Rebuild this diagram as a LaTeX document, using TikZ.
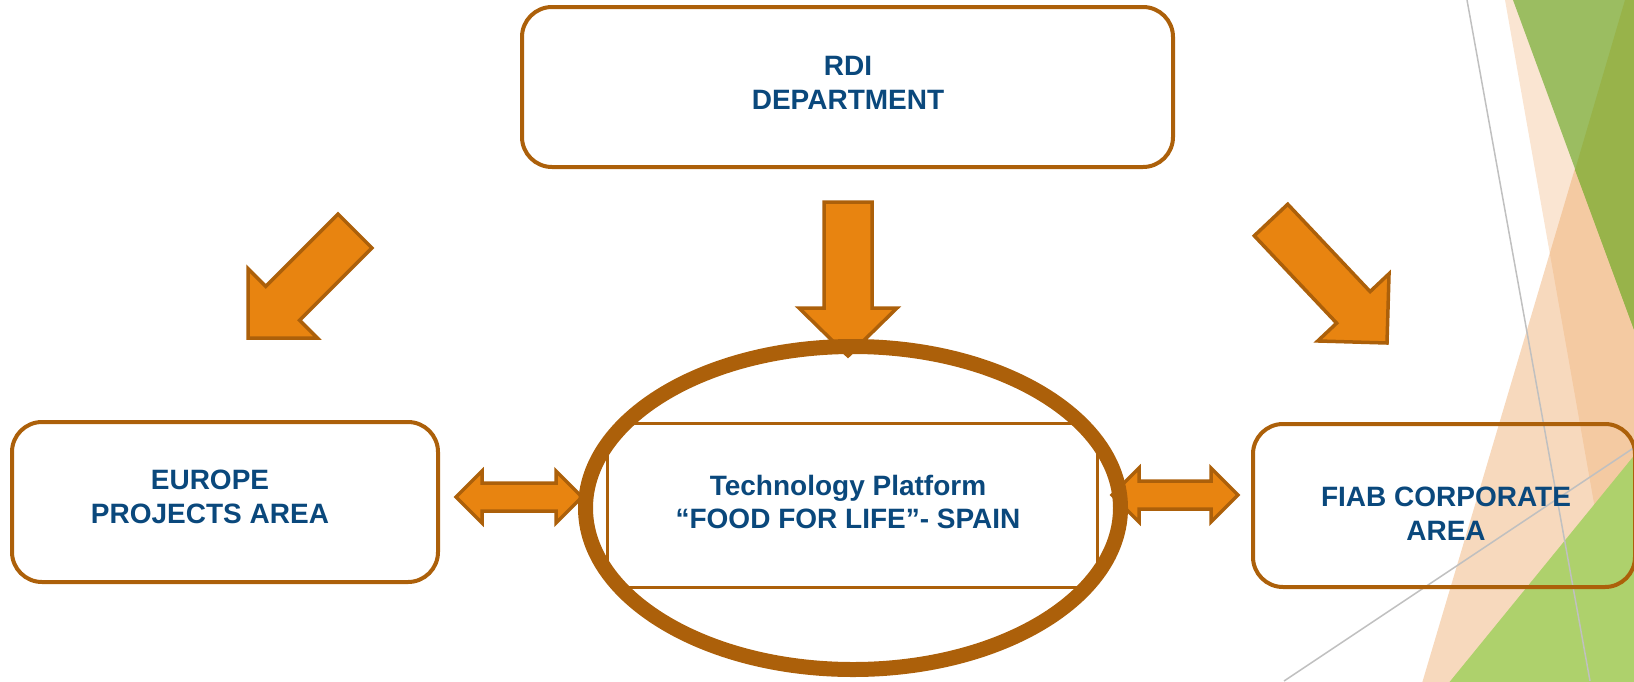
\documentclass[tikz,border=0pt]{standalone}
\usepackage{fontspec}
\setmainfont{Liberation Sans}
\usetikzlibrary{calc,shapes.geometric}
\definecolor{txtblue}{RGB}{10,72,124}
\definecolor{brd}{RGB}{172,96,10}
\definecolor{ofill}{RGB}{232,132,16}
\definecolor{greenA}{RGB}{155,189,97}
\definecolor{greenB}{RGB}{152,179,74}
\definecolor{greenC}{RGB}{174,209,108}
\definecolor{peach}{RGB}{236,160,90}
\definecolor{thinline}{RGB}{192,192,192}
\tikzset{
  roundbox/.style={draw=brd, line width=4pt, rounded corners=30pt, inner sep=0pt},
  lbl/.style={text=txtblue, font=\bfseries\fontsize{28}{33.6}\selectfont, align=center, inner sep=0pt},
  barrow/.style={draw=brd, fill=ofill, line width=3.5pt, line join=miter},
  grayline/.style={draw=thinline, line width=1.5pt},
}
% single block arrow: tail, tip, shaft half width, head half width, head length
\newcommand\blockarr[5]{%
  \coordinate (tmpb) at ($(#2)!#5!(#1)$);
  \draw[barrow] ($(#1)!#3!90:(#2)$) -- ($(tmpb)!#3!90:(#2)$) -- ($(tmpb)!#4!90:(#2)$) -- (#2)
    -- ($(tmpb)!#4!-90:(#2)$) -- ($(tmpb)!#3!-90:(#2)$) -- ($(#1)!#3!-90:(#2)$) -- cycle;}
% double block arrow: left tip, right tip, shaft half width, head half width, head length
\newcommand\dblarr[5]{%
  \coordinate (tmpa) at ($(#1)!#5!(#2)$);
  \coordinate (tmpc) at ($(#2)!#5!(#1)$);
  \draw[barrow] (#1) -- ($(tmpa)!#4!90:(#2)$) -- ($(tmpa)!#3!90:(#2)$) -- ($(tmpc)!#3!-90:(#1)$)
    -- ($(tmpc)!#4!-90:(#1)$) -- (#2) -- ($(tmpc)!#4!90:(#1)$) -- ($(tmpc)!#3!90:(#1)$)
    -- ($(tmpa)!#3!-90:(#2)$) -- ($(tmpa)!#4!-90:(#2)$) -- cycle;}
\begin{document}
\begin{tikzpicture}[x=1pt,y=-1pt]
\useasboundingbox (0,0) rectangle (1634,681);
% background decoration
\begin{scope}
  \clip (0,0) rectangle (1634,681);
  \fill[peach, fill opacity=0.27] (1505,0) -- (1650,0) -- (1650,690) -- (1627,690) -- cycle;
  \fill[peach, fill opacity=0.4] (1625,0) -- (1650,0) -- (1650,690) -- (1420,690) -- cycle;
  \fill[greenA] (1513,0) -- (1650,0) -- (1650,373) -- cycle;
  \fill[greenB] (1625,0) -- (1650,0) -- (1650,373) -- (1575,170) -- cycle;
  \fill[greenC] (1443,690) -- (1650,436) -- (1650,690) -- cycle;
  \draw[grayline] (1467,0) -- (1590,681);
  \draw[grayline] (1284,681) -- (1650,437);
\end{scope}
% boxes
\node[roundbox, minimum width=651pt, minimum height=160pt] (rdi) at (847.5,87) {};
\node[lbl] (rditxt) at (848,83) {RDI\\DEPARTMENT};
\node[roundbox, minimum width=426pt, minimum height=160pt] (europe) at (225,502) {};
\node[lbl] (europetxt) at (210,497) {EUROPE\\PROJECTS AREA};
\node[roundbox, minimum width=382pt, minimum height=163pt] (fiab) at (1444,505.5) {};
\node[lbl] (fiabtxt) at (1446,514) {FIAB CORPORATE\\AREA};
\begin{scope}
  \clip (853,508) ellipse [x radius=274pt, y radius=168pt];
  \node[draw=brd, line width=3pt, minimum width=490pt, minimum height=164pt, inner sep=0pt] (platform) at (852.5,505.5) {};
\end{scope}
\node[lbl] (platformtxt) at (848,502) {Technology Platform\\“FOOD FOR LIFE”- SPAIN};
% arrows
\coordinate (dnT) at (848,202);
\coordinate (dnP) at (848,356);
\coordinate (lfT) at (355,231);
\coordinate (lfP) at (248,338);
\coordinate (rtT) at (1271,220);
\coordinate (rtP) at (1387,343);
\coordinate (ldA) at (456,497);
\coordinate (ldB) at (582,497);
\coordinate (rdA) at (1112,495);
\coordinate (rdB) at (1238,495);
\blockarr{dnT}{dnP}{24pt}{49pt}{48pt}
\blockarr{lfT}{lfP}{24pt}{49pt}{49pt}
\blockarr{rtT}{rtP}{23pt}{49pt}{49pt}
\dblarr{ldA}{ldB}{14pt}{26pt}{26pt}
\dblarr{rdA}{rdB}{14pt}{27pt}{27pt}
% ring
\node[ellipse, draw=brd, line width=15pt, minimum width=535pt, minimum height=323pt, inner sep=0pt] (ring) at (853,508) {};
\end{tikzpicture}
\end{document}
